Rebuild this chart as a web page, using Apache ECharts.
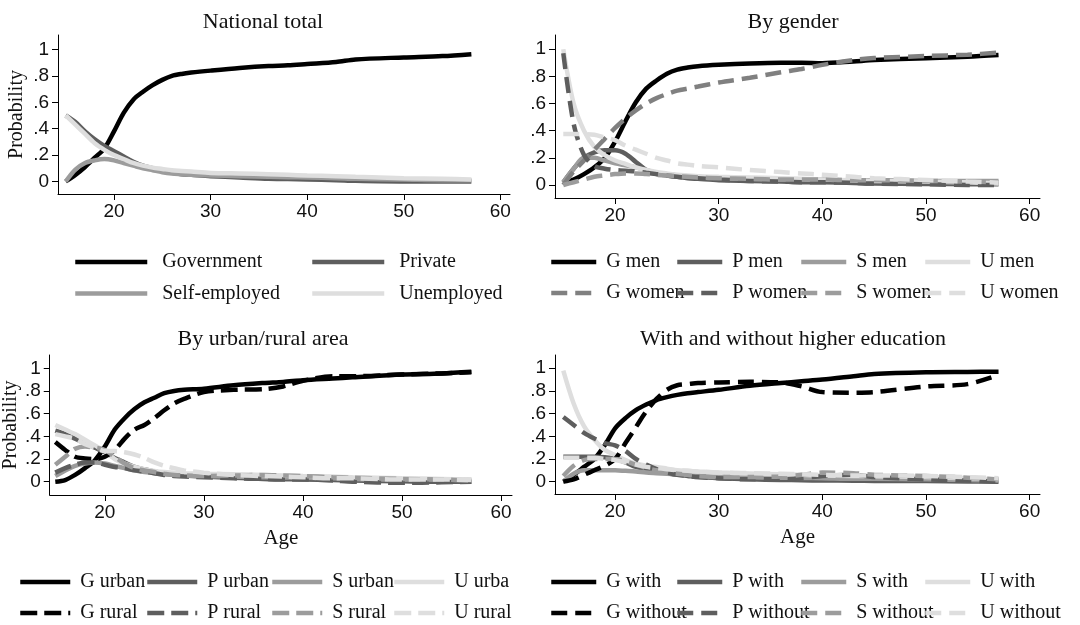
<!DOCTYPE html>
<html>
<head>
<meta charset="utf-8">
<script src="https://cdn.jsdelivr.net/npm/echarts@6/dist/echarts.min.js"></script>
<style>html,body{margin:0;background:#fff}#chart{width:1080px;height:625px}</style>
</head>
<body>
<div id="chart"></div>
<script>
var ages = [15,16,17,18,19,20,21,22,23,24,25,26,27,28,30,33,36,38,40,43,45,50,54,57];
var xTicks = [20,30,40,50,60];
var yTicks = [0,0.2,0.4,0.6,0.8,1];

// National total
var govNat   = [0,0.05,0.11,0.18,0.25,0.38,0.52,0.62,0.68,0.73,0.77,0.80,0.815,0.825,0.84,0.86,0.875,0.88,0.89,0.905,0.925,0.94,0.95,0.965];
var privNat  = [0.50,0.45,0.38,0.32,0.27,0.23,0.19,0.15,0.12,0.10,0.08,0.065,0.055,0.05,0.04,0.03,0.02,0.018,0.015,0.01,0.005,0,0,0];
var selfNat  = [0,0.09,0.14,0.16,0.17,0.16,0.14,0.12,0.10,0.085,0.07,0.06,0.055,0.05,0.045,0.04,0.035,0.032,0.03,0.025,0.02,0.015,0.01,0.01];
var unempNat = [0.50,0.43,0.36,0.29,0.24,0.20,0.17,0.14,0.12,0.105,0.095,0.085,0.08,0.075,0.065,0.06,0.055,0.05,0.045,0.04,0.035,0.025,0.02,0.015];

// By gender
var gMen   = [0.01,0.04,0.08,0.13,0.20,0.32,0.47,0.61,0.71,0.77,0.82,0.85,0.865,0.875,0.885,0.895,0.90,0.90,0.897,0.91,0.92,0.934,0.945,0.958];
var pMen   = [0.02,0.12,0.20,0.24,0.255,0.255,0.23,0.17,0.11,0.08,0.07,0.06,0.05,0.045,0.035,0.03,0.025,0.02,0.02,0.015,0.01,0.008,0.005,0.005];
var sMen   = [0.02,0.12,0.20,0.20,0.18,0.16,0.145,0.13,0.11,0.09,0.08,0.07,0.065,0.06,0.05,0.045,0.04,0.04,0.04,0.035,0.035,0.03,0.03,0.03];
var uMen   = [1.0,0.60,0.40,0.28,0.22,0.18,0.155,0.13,0.11,0.095,0.085,0.075,0.07,0.065,0.06,0.055,0.05,0.045,0.04,0.035,0.03,0.025,0.02,0.01];
var gWomen = [0,0.10,0.18,0.26,0.34,0.42,0.49,0.55,0.60,0.64,0.67,0.695,0.71,0.725,0.755,0.79,0.83,0.855,0.885,0.92,0.935,0.95,0.96,0.975];
var pWomen = [0.97,0.45,0.22,0.14,0.12,0.11,0.105,0.10,0.09,0.08,0.07,0.06,0.055,0.05,0.04,0.03,0.025,0.02,0.02,0.015,0.01,0.005,0,0];
var sWomen = [0,0.02,0.04,0.06,0.07,0.08,0.085,0.085,0.08,0.075,0.07,0.065,0.06,0.055,0.05,0.045,0.04,0.04,0.04,0.035,0.035,0.03,0.025,0.02];
var uWomen = [0.375,0.375,0.375,0.37,0.35,0.33,0.29,0.26,0.23,0.20,0.18,0.16,0.15,0.14,0.13,0.11,0.095,0.085,0.075,0.06,0.05,0.037,0.025,0.017];

// By urban/rural area
var gUrban = [0,0.015,0.06,0.12,0.19,0.31,0.46,0.56,0.64,0.70,0.74,0.78,0.80,0.81,0.82,0.85,0.87,0.88,0.895,0.91,0.92,0.945,0.955,0.97];
var pUrban = [0.45,0.42,0.38,0.34,0.30,0.26,0.21,0.17,0.13,0.11,0.09,0.075,0.065,0.055,0.045,0.035,0.025,0.022,0.02,0.015,0.01,0.005,0,0];
var sUrban = [0.05,0.10,0.14,0.16,0.17,0.16,0.14,0.12,0.10,0.085,0.075,0.065,0.06,0.055,0.05,0.045,0.04,0.038,0.035,0.03,0.025,0.02,0.02,0.015];
var uUrban = [0.50,0.46,0.42,0.37,0.32,0.27,0.20,0.16,0.13,0.11,0.095,0.085,0.08,0.075,0.07,0.065,0.06,0.055,0.05,0.045,0.04,0.03,0.025,0.02];
var gRural = [0.35,0.28,0.22,0.205,0.20,0.22,0.28,0.38,0.46,0.50,0.56,0.63,0.69,0.73,0.79,0.81,0.815,0.84,0.89,0.93,0.93,0.945,0.955,0.965];
var pRural = [0.08,0.12,0.15,0.17,0.17,0.15,0.13,0.12,0.10,0.09,0.075,0.06,0.05,0.045,0.04,0.03,0.025,0.02,0.02,0.01,0,-0.01,-0.005,0];
var sRural = [0.15,0.22,0.29,0.31,0.30,0.28,0.22,0.16,0.12,0.10,0.085,0.07,0.06,0.055,0.05,0.055,0.06,0.055,0.05,0.04,0.035,0.025,0.02,0.01];
var uRural = [0.42,0.40,0.38,0.33,0.30,0.27,0.27,0.26,0.24,0.21,0.17,0.14,0.12,0.10,0.08,0.06,0.05,0.045,0.04,0.03,0.03,0.02,0.02,0.015];

// With and without higher education
var gWith    = [0,0.06,0.13,0.20,0.32,0.47,0.56,0.63,0.68,0.72,0.745,0.765,0.78,0.79,0.81,0.845,0.87,0.885,0.90,0.93,0.95,0.965,0.968,0.97];
var pWith    = [0.22,0.22,0.22,0.22,0.215,0.20,0.17,0.13,0.11,0.09,0.075,0.06,0.05,0.04,0.03,0.02,0.015,0.012,0.01,0.008,0.006,0.005,0.002,0];
var sWith    = [0,0.07,0.10,0.10,0.10,0.10,0.095,0.09,0.08,0.075,0.07,0.065,0.06,0.055,0.05,0.04,0.035,0.032,0.03,0.025,0.025,0.02,0.015,0.01];
var uWith    = [0.98,0.69,0.49,0.37,0.28,0.235,0.19,0.16,0.14,0.13,0.115,0.10,0.095,0.09,0.08,0.072,0.065,0.06,0.055,0.05,0.048,0.04,0.03,0.02];
var gWithout = [0,0.02,0.06,0.10,0.14,0.20,0.34,0.48,0.62,0.73,0.81,0.85,0.86,0.87,0.875,0.88,0.875,0.84,0.79,0.785,0.79,0.84,0.86,0.94];
var pWithout = [0.57,0.50,0.43,0.38,0.34,0.32,0.27,0.20,0.15,0.11,0.08,0.06,0.05,0.04,0.03,0.02,0.02,0.03,0.05,0.06,0.04,0.02,0.01,0];
var sWithout = [0.05,0.14,0.19,0.20,0.20,0.20,0.18,0.15,0.12,0.10,0.08,0.07,0.06,0.05,0.04,0.04,0.045,0.06,0.08,0.075,0.06,0.05,0.035,0.02];
var uWithout = [0.21,0.21,0.21,0.21,0.20,0.19,0.17,0.15,0.13,0.12,0.11,0.10,0.095,0.09,0.08,0.075,0.07,0.065,0.06,0.055,0.055,0.05,0.04,0.03];

var C_G = '#000000', C_P = '#5e5e5e', C_S = '#9c9c9c', C_U = '#dedede', C_GW = '#808080';
var SERIF = '"Liberation Serif", "Times New Roman", serif';
var SANS = '"Liberation Sans", Arial, sans-serif';
var LW = 4.5;

var chart = echarts.init(document.getElementById('chart'));

function pts(vals) {
    return ages.map(function (a, i) { return [a, vals[i]]; });
}

function line(name, vals, idx, color, dash) {
    return {
        name: name, type: 'line', xAxisIndex: idx, yAxisIndex: idx,
        data: pts(vals), symbol: 'none', smooth: 0.3,
        lineStyle: { color: color, width: LW, type: dash || 'solid' },
        itemStyle: { color: color }
    };
}

function xAx(idx, min, max, name) {
    return {
        type: 'value', gridIndex: idx, min: min, max: max,
        axisLine: { show: true, onZero: false, lineStyle: { color: '#000', width: 1 } },
        axisTick: { show: true, customValues: xTicks, length: 6, lineStyle: { color: '#000' } },
        axisLabel: { customValues: xTicks, color: '#111', fontFamily: SANS, fontSize: 19, margin: 8 },
        splitLine: { show: false },
        name: name || '', nameLocation: 'middle', nameGap: 33,
        nameTextStyle: { fontFamily: SERIF, fontSize: 21, color: '#111' }
    };
}

function yAx(idx, min, max, name, gap) {
    return {
        type: 'value', gridIndex: idx, min: min, max: max,
        axisLine: { show: true, onZero: false, lineStyle: { color: '#000', width: 1 } },
        axisTick: { show: true, customValues: yTicks, length: 6, lineStyle: { color: '#000' } },
        axisLabel: {
            customValues: yTicks, color: '#111', fontFamily: SANS, fontSize: 19, margin: 9,
            formatter: function (v) { return v === 0 ? '0' : v === 1 ? '1' : String(v).replace('0.', '.'); }
        },
        splitLine: { show: false },
        name: name || '', nameLocation: 'middle', nameGap: gap || 30, nameRotate: 90,
        nameTextStyle: { fontFamily: SERIF, fontSize: 20, color: '#111' }
    };
}

function legendCol(names, left, top, iconW, pad, gap, textW) {
    var ts = { fontFamily: SERIF, fontSize: 20, color: '#111', lineHeight: 22, padding: [0, 0, 0, pad] };
    if (textW) { ts.width = textW; ts.overflow = 'truncate'; ts.ellipsis = ''; }
    return {
        data: names, orient: 'vertical', left: left, top: top, padding: 0,
        itemWidth: iconW, itemHeight: 14, itemGap: gap, selectedMode: false,
        itemStyle: { opacity: 0, borderWidth: 0 },
        lineStyle: { width: LW },
        textStyle: ts
    };
}

function title(text, x, y) {
    return {
        text: text, left: x, top: y, textAlign: 'center',
        textStyle: { fontFamily: SERIF, fontSize: 22, fontWeight: 'normal', color: '#111' }
    };
}

var dash2 = [16, 8], dash3 = [17, 7], dash4 = [16, 8];

option = {
    animation: false,
    backgroundColor: '#fff',
    title: [
        title('National total', 258, 6),
        title('By gender', 788, 6),
        title('By urban/rural area', 258, 323),
        title('With and without higher education', 788, 323)
    ],
    grid: [
        { left: 58, top: 35, width: 452, height: 159 },
        { left: 555, top: 35, width: 485, height: 163 },
        { left: 42, top: 355, width: 470, height: 140 },
        { left: 555, top: 355, width: 485, height: 139 }
    ],
    xAxis: [
        xAx(0, 14.2, 61),
        xAx(1, 14.2, 61),
        xAx(2, 14.44, 61.1, 'Age'),
        xAx(3, 14.2, 61, 'Age')
    ],
    yAxis: [
        yAx(0, -0.095, 1.11, 'Probability', 31),
        yAx(1, -0.096, 1.105),
        yAx(2, -0.117, 1.117, 'Probability', 15),
        yAx(3, -0.109, 1.117)
    ],
    legend: [
        legendCol(['Government', 'Self-employed'], 73, 251, 72, 10, 9.5),
        legendCol(['Private', 'Unemployed'], 310, 251, 72, 10, 9.5),
        legendCol(['G men', 'G women'], 549, 251, 45, 5, 9),
        legendCol(['P men', 'P women'], 675, 251, 45, 5, 9),
        legendCol(['S men', 'S women'], 799, 251, 45, 5, 9),
        legendCol(['U men', 'U women'], 923, 251, 45, 5, 9),
        legendCol(['G urban', 'G rural'], 18, 571, 50, 5, 9),
        legendCol(['P urban', 'P rural'], 145, 571, 50, 5, 9),
        legendCol(['S urban', 'S rural'], 270, 571, 50, 5, 9),
        legendCol(['U urban', 'U rural'], 392, 571, 50, 5, 9, 62),
        legendCol(['G with', 'G without'], 549, 571, 45, 5, 9),
        legendCol(['P with', 'P without'], 675, 571, 45, 5, 9),
        legendCol(['S with', 'S without'], 799, 571, 45, 5, 9),
        legendCol(['U with', 'U without'], 923, 571, 45, 5, 9)
    ],
    series: [
        line('Government', govNat, 0, C_G),
        line('Private', privNat, 0, C_P),
        line('Self-employed', selfNat, 0, C_S),
        line('Unemployed', unempNat, 0, C_U),

        line('G men', gMen, 1, C_G),
        line('P men', pMen, 1, C_P),
        line('S men', sMen, 1, C_S),
        line('U men', uMen, 1, C_U),
        line('G women', gWomen, 1, C_GW, dash2),
        line('P women', pWomen, 1, C_P, dash2),
        line('S women', sWomen, 1, C_S, dash2),
        line('U women', uWomen, 1, C_U, dash2),

        line('G urban', gUrban, 2, C_G),
        line('P urban', pUrban, 2, C_P),
        line('S urban', sUrban, 2, C_S),
        line('U urban', uUrban, 2, C_U),
        line('G rural', gRural, 2, C_G, dash3),
        line('P rural', pRural, 2, C_P, dash3),
        line('S rural', sRural, 2, C_S, dash3),
        line('U rural', uRural, 2, C_U, dash3),

        line('G with', gWith, 3, C_G),
        line('P with', pWith, 3, C_P),
        line('S with', sWith, 3, C_S),
        line('U with', uWith, 3, C_U),
        line('G without', gWithout, 3, C_G, dash4),
        line('P without', pWithout, 3, C_P, dash4),
        line('S without', sWithout, 3, C_S, dash4),
        line('U without', uWithout, 3, C_U, dash4)
    ]
};

if (option && typeof option === 'object') {
    chart.setOption(option, true);
    window.onresize = chart.resize;
}
</script>
</body>
</html>
